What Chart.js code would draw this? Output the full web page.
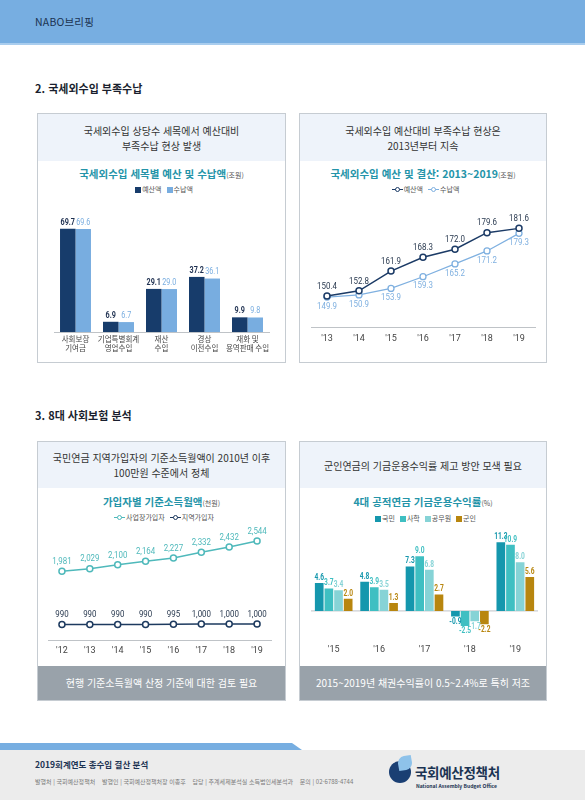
<!DOCTYPE html>
<html lang="ko">
<head>
<meta charset="utf-8">
<script src="https://cdn.jsdelivr.net/npm/chart.js@4.4.1/dist/chart.umd.min.js"></script>
<style>
  body { margin: 0; width: 585px; height: 800px; position: relative; background: #fff;
         font-family: "Noto Sans CJK KR", "Noto Sans", sans-serif; overflow: hidden; }
  .abs { position: absolute; }
  .topbar { left: 0; top: 0; width: 585px; height: 43px; background: #77aee1; border-bottom: 2px solid #a9cdee; }
  .brand { left: 35px; top: 14px; font-size: 10.5px; color: #1b3352; letter-spacing: 0.2px; }
  .section { left: 35px; font-size: 11px; font-weight: bold; color: #1a1f2e; }
  .panel { border: 1.5px solid #c6ccd2; box-sizing: border-box; background: #fff; }
  .phead { position: absolute; left: 0; top: 0; right: 0; background: #eef3fa; color: #333;
           font-size: 10px; text-align: center; line-height: 15px; display: flex;
           align-items: center; justify-content: center; }
  .ctitle { text-align: center; font-size: 10.5px; font-weight: bold; color: #2494a9; }
  .ctitle small { font-size: 7px; font-weight: normal; color: #555; }
  .legend { text-align: center; font-size: 7px; color: #555; }
  .sq { display: inline-block; width: 6px; height: 6px; margin: 0 1px 0 5px; vertical-align: -0.5px; }
  .ln { display: inline-block; position: relative; width: 11px; height: 7px; margin: 0 1px 0 5px; vertical-align: -1px; }
  .ln::before { content: ""; position: absolute; left: 0; right: 0; top: 3px; height: 1px; background: var(--c); }
  .ln::after { content: ""; position: absolute; left: 3px; top: 1px; width: 3px; height: 3px;
               border: 1px solid var(--c); border-radius: 50%; background: #fff; }
  .pfoot { position: absolute; left: 0; right: 0; bottom: 0; height: 34px; background: #99a2aa;
           color: #fff; font-size: 10px; text-align: center; line-height: 34px; }
  canvas { position: absolute; }
  .stripe { left: 0; top: 743px; width: 302px; height: 7px; background: #77aee1;
            clip-path: polygon(0 0, 292px 0, 302px 7px, 0 7px); }
  .foot { left: 0; top: 750px; width: 585px; height: 50px; background: #ececec; }
</style>
</head>
<body>
<div class="abs topbar"></div>
<div class="abs brand">NABO브리핑</div>

<div class="abs section" style="top:80px">2. 국세외수입 부족수납</div>

<div class="abs panel" style="left:37px;top:113px;width:249px;height:250px">
  <div class="phead" style="height:47px">국세외수입 상당수 세목에서 예산대비<br>부족수납 현상 발생</div>
</div>
<div class="abs ctitle" style="left:37px;width:249px;top:166px">국세외수입 세목별 예산 및 수납액<small>(조원)</small></div>
<div class="abs legend" style="left:37px;width:249px;top:184px"><span class="sq" style="background:#173c6b"></span>예산액<span class="sq" style="background:#78ade0"></span>수납액</div>
<canvas id="c1" class="abs" style="left:37px;top:210px;width:248px;height:146px"></canvas>

<div class="abs panel" style="left:299px;top:113px;width:248px;height:250px">
  <div class="phead" style="height:47px">국세외수입 예산대비 부족수납 현상은<br>2013년부터 지속</div>
</div>
<div class="abs ctitle" style="left:299px;width:248px;top:166px">국세외수입 예산 및 결산: 2013~2019<small>(조원)</small></div>
<div class="abs legend" style="left:299px;width:248px;top:184px"><span class="ln" style="--c:#1c3b66"></span>예산액<span class="ln" style="--c:#7fb0e0"></span>수납액</div>
<canvas id="c2" class="abs" style="left:299px;top:209px;width:247px;height:141px"></canvas>

<div class="abs section" style="top:407px">3. 8대 사회보험 분석</div>

<div class="abs panel" style="left:37px;top:441px;width:249px;height:260px">
  <div class="phead" style="height:46px">국민연금 지역가입자의 기준소득월액이 2010년 이후<br>100만원 수준에서 정체</div>
  <div class="pfoot">현행 기준소득월액 산정 기준에 대한 검토 필요</div>
</div>
<div class="abs ctitle" style="left:37px;width:249px;top:494px">가입자별 기준소득월액<small>(천원)</small></div>
<div class="abs legend" style="left:37px;width:249px;top:512px"><span class="ln" style="--c:#4fb9bb"></span>사업장가입자<span class="ln" style="--c:#1d3a5f"></span>지역가입자</div>
<canvas id="c3" class="abs" style="left:37px;top:527px;width:248px;height:134px"></canvas>

<div class="abs panel" style="left:299px;top:441px;width:248px;height:260px">
  <div class="phead" style="height:46px">군인연금의 기금운용수익률 제고 방안 모색 필요</div>
  <div class="pfoot">2015~2019년 채권수익률이 0.5~2.4%로 특히 저조</div>
</div>
<div class="abs ctitle" style="left:299px;width:248px;top:494px">4대 공적연금 기금운용수익률<small>(%)</small></div>
<div class="abs legend" style="left:299px;width:248px;top:513px"><span class="sq" style="background:#1597ad"></span>국민<span class="sq" style="background:#3fbfc2"></span>사학<span class="sq" style="background:#86d3d6"></span>공무원<span class="sq" style="background:#b8860f"></span>군인</div>
<canvas id="c4" class="abs" style="left:299px;top:528px;width:248px;height:136px"></canvas>

<div class="abs stripe"></div>
<div class="abs foot"></div>
<div class="abs" style="left:35px;top:758px;font-size:8.5px;font-weight:bold;color:#1b3352">2019회계연도 총수입 결산 분석</div>
<div class="abs" style="left:35px;top:777px;font-size:6px;color:#7a7a7a;white-space:nowrap">발행처 | 국회예산정책처 &nbsp;&nbsp; 발행인 | 국회예산정책처장 이종후 &nbsp;&nbsp; 담당 | 추계세제분석실 소득법인세분석과 &nbsp;&nbsp; 문의 | 02-6788-4744</div>
<div class="abs" style="left:389px;top:761px;width:22px;height:22px;border-radius:50%;background:#1a3f73"></div>
<div class="abs" style="left:398px;top:756px;width:14px;height:14px;border-radius:50% 0 50% 0;background:#8ec2ea;transform:rotate(-10deg)"></div>
<div class="abs" style="left:415px;top:762px;font-size:13.5px;font-weight:bold;color:#1b3352;letter-spacing:-0.3px">국회예산정책처</div>
<div class="abs" style="left:416px;top:782px;font-size:5px;font-weight:bold;color:#1b3352;white-space:nowrap">National Assembly Budget Office</div>

<script>
// 국세외수입 세목별 예산 및 수납액 (조원)
const taxItems = [['사회보장', '기여금'], ['기업특별회계', '영업수입'], ['재산', '수입'], ['경상', '이전수입'], ['재화 및', '용역판매 수입']];
const itemBudget = [69.7, 6.9, 29.1, 37.2, 9.9];
const itemRevenue = [69.6, 6.7, 29.0, 36.1, 9.8];

// 국세외수입 예산 및 결산 2013~2019 (조원)
const years1 = ["'13", "'14", "'15", "'16", "'17", "'18", "'19"];
const budgetByYear = [150.4, 152.8, 161.9, 168.3, 172.0, 179.6, 181.6];
const revenueByYear = [149.9, 150.9, 153.9, 159.3, 165.2, 171.2, 179.3];

// 가입자별 기준소득월액 (천원)
const years2 = ["'12", "'13", "'14", "'15", "'16", "'17", "'18", "'19"];
const workplaceIncome = [1981, 2029, 2100, 2164, 2227, 2332, 2432, 2544];
const regionalIncome = [990, 990, 990, 990, 995, 1000, 1000, 1000];

// 4대 공적연금 기금운용수익률 (%)
const years3 = ["'15", "'16", "'17", "'18", "'19"];
const nationalRate = [4.6, 4.8, 7.3, -0.9, 11.3];
const teacherRate = [3.7, 3.9, 9.0, -2.5, 10.9];
const civilRate = [3.4, 3.5, 6.8, -1.7, 8.0];
const militaryRate = [2.0, 1.3, 2.7, -2.2, 5.6];

const NUM_FONT = 'Roboto, sans-serif';

// value labels drawn next to each bar / point (squeezed horizontally like a condensed face)
const valueLabels = {
    id: 'valueLabels',
    afterDatasetsDraw(chart, args, opts) {
        const ctx = chart.ctx;
        chart.data.datasets.forEach((ds, i) => {
            const meta = chart.getDatasetMeta(i);
            meta.data.forEach((el, j) => {
                const v = ds.data[j];
                const below = ds.labelBelow || v < 0;
                const off = opts.offset;
                ctx.save();
                ctx.font = ds.labelFont || opts.font;
                ctx.fillStyle = ds.labelColor;
                ctx.textAlign = 'center';
                ctx.textBaseline = below ? 'top' : 'bottom';
                ctx.translate(el.x, below ? el.y + off : el.y - off);
                ctx.scale(opts.squeeze || 1, 1);
                ctx.fillText(opts.format(v), 0, 0);
                ctx.restore();
            });
        });
    }
};

// zero line for the return-rate chart
const zeroLine = {
    id: 'zeroLine',
    beforeDatasetsDraw(chart) {
        const y = chart.scales.y.getPixelForValue(0);
        const ctx = chart.ctx;
        ctx.save();
        ctx.strokeStyle = '#bfc3c7';
        ctx.lineWidth = 1;
        ctx.beginPath();
        ctx.moveTo(chart.chartArea.left, y);
        ctx.lineTo(chart.chartArea.right, y);
        ctx.stroke();
        ctx.restore();
    }
};

Chart.defaults.animation = false;
Chart.defaults.responsive = false;
Chart.defaults.plugins.legend.display = false;
Chart.defaults.plugins.tooltip.enabled = false;

function xAxis(fontSize, pad) {
    return {
        grid: { display: false, drawTicks: false },
        border: { display: true, color: '#bfc3c7', width: 1 },
        ticks: { color: '#444', font: { family: NUM_FONT, size: fontSize }, padding: pad, maxRotation: 0, autoSkip: false }
    };
}

function makeCanvas(id) {
    const el = document.getElementById(id);
    el.width = parseInt(el.style.width);
    el.height = parseInt(el.style.height);
    return el;
}

new Chart(makeCanvas('c1'), {
    type: 'bar',
    data: {
        labels: taxItems,
        datasets: [
            { data: itemBudget, backgroundColor: '#173c6b', labelColor: '#1e3050', categoryPercentage: 0.72, barPercentage: 1 },
            { data: itemRevenue, backgroundColor: '#78ade0', labelColor: '#78ade0', labelFont: '9px ' + NUM_FONT,
              categoryPercentage: 0.72, barPercentage: 1 }
        ]
    },
    options: {
        layout: { padding: { left: 17, right: 16, top: 5 } },
        scales: {
            x: Object.assign(xAxis(8, 4), { ticks: { color: '#444', font: { family: '"Noto Sans CJK KR", sans-serif', size: 7.5 }, padding: 3, maxRotation: 0, autoSkip: false } }),
            y: { display: false, min: 0, max: 79 }
        },
        plugins: { valueLabels: { font: 'bold 9px ' + NUM_FONT, offset: 2, squeeze: 0.8, format: v => v.toFixed(1) } }
    },
    plugins: [valueLabels]
});

new Chart(makeCanvas('c2'), {
    type: 'line',
    data: {
        labels: years1,
        datasets: [
            { data: budgetByYear, borderColor: '#1c3b66', labelColor: '#2a3a50', borderWidth: 1.5,
              pointRadius: 3, pointBorderWidth: 1.5, pointBackgroundColor: '#fff', pointBorderColor: '#1c3b66' },
            { data: revenueByYear, borderColor: '#7fb0e0', labelColor: '#7fb0e0', labelBelow: true, borderWidth: 1.2,
              pointRadius: 3, pointBorderWidth: 1.3, pointBackgroundColor: '#fff', pointBorderColor: '#7fb0e0' }
        ]
    },
    options: {
        layout: { padding: { left: 12, right: 11, top: 2 } },
        scales: {
            x: Object.assign(xAxis(9, 6), { offset: true }),
            y: { display: false, min: 136, max: 188 }
        },
        plugins: { valueLabels: { font: '9px ' + NUM_FONT, offset: 5, squeeze: 0.88, format: v => v.toFixed(1) } }
    },
    plugins: [valueLabels]
});

new Chart(makeCanvas('c3'), {
    type: 'line',
    data: {
        labels: years2,
        datasets: [
            { data: workplaceIncome, borderColor: '#4fb9bb', labelColor: '#4fb9bb', borderWidth: 1.5,
              pointRadius: 3, pointBorderWidth: 1.5, pointBackgroundColor: '#fff', pointBorderColor: '#4fb9bb' },
            { data: regionalIncome, borderColor: '#1d3a5f', labelColor: '#2a3a50', borderWidth: 1.5,
              pointRadius: 3, pointBorderWidth: 1.5, pointBackgroundColor: '#fff', pointBorderColor: '#1d3a5f' }
        ]
    },
    options: {
        layout: { padding: { left: 11, right: 14, top: 3 } },
        scales: {
            x: Object.assign(xAxis(9, 5), { offset: true }),
            y: { display: false, min: 700, max: 2700 }
        },
        plugins: { valueLabels: { font: '9px ' + NUM_FONT, offset: 5, squeeze: 0.88, format: v => v.toLocaleString('en-US') } }
    },
    plugins: [valueLabels]
});

new Chart(makeCanvas('c4'), {
    type: 'bar',
    data: {
        labels: years3,
        datasets: [
            { data: nationalRate, backgroundColor: '#1597ad', labelColor: '#1597ad' },
            { data: teacherRate, backgroundColor: '#3fbfc2', labelColor: '#3fbfc2' },
            { data: civilRate, backgroundColor: '#86d3d6', labelColor: '#86d3d6' },
            { data: militaryRate, backgroundColor: '#b8860f', labelColor: '#b8860f' }
        ]
    },
    options: {
        datasets: { bar: { categoryPercentage: 0.85, barPercentage: 0.9 } },
        layout: { padding: { left: 12, right: 9, top: 4 } },
        scales: {
            x: Object.assign(xAxis(9, 9), { border: { display: false } }),
            y: { display: false, min: -4, max: 13 }
        },
        plugins: { valueLabels: { font: 'bold 8.5px ' + NUM_FONT, offset: 1, squeeze: 0.78, format: v => v.toFixed(1) } }
    },
    plugins: [zeroLine, valueLabels]
});
</script>
</body>
</html>
